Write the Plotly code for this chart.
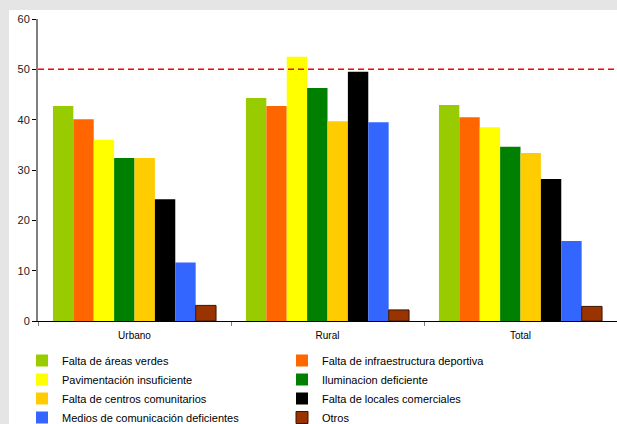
import plotly.graph_objects as go

categories = ["Urbano", "Rural", "Total"]
series_names = [
    "Falta de áreas verdes",
    "Falta de infraestructura deportiva",
    "Pavimentación insuficiente",
    "Iluminacion deficiente",
    "Falta de centros comunitarios",
    "Falta de locales comerciales",
    "Medios de comunicación deficientes",
    "Otros",
]
areas_verdes = [42.7, 44.3, 42.9]
infraestructura = [40.1, 42.7, 40.5]
pavimentacion = [36.0, 52.5, 38.5]
iluminacion = [32.4, 46.3, 34.6]
centros = [32.4, 39.7, 33.4]
locales = [24.2, 49.5, 28.2]
medios = [11.6, 39.5, 15.9]
otros = [3.1, 2.2, 2.9]
reference_value = 50
y_ticks = [0, 10, 20, 30, 40, 50, 60]

series_values = [areas_verdes, infraestructura, pavimentacion, iluminacion,
                 centros, locales, medios, otros]
colors = ["#99cc00", "#ff6600", "#ffff00", "#008000",
          "#ffcc00", "#000000", "#3366ff", "#993300"]

W, H = 617, 424
ml, mr, mt, mb = 38, 0, 19, 103
pw = W - ml - mr
ph = H - mt - mb

fig = go.Figure()
for name, vals, col in zip(series_names, series_values, colors):
    line = dict(width=0)
    if name == "Otros":
        line = dict(width=1, color="#3d1400")
    fig.add_trace(go.Bar(name=name, x=categories, y=vals,
                         marker=dict(color=col, line=line)))

# white panel over gray background (panel from x=9, y=10 to the figure edge)
fig.add_shape(type="rect", xref="paper", yref="paper",
              x0=(9 - ml) / pw, x1=(W + 5 - ml) / pw,
              y0=-(H + 5 - mt - ph) / ph, y1=(ph + mt - 10) / ph,
              fillcolor="white", line=dict(width=0), layer="below")
# reference line
fig.add_shape(type="line", xref="paper", yref="y", x0=0, x1=1,
              y0=reference_value, y1=reference_value,
              line=dict(color="#ff0000", width=1.5, dash="6px,4px"))

fig.update_layout(
    width=W, height=H,
    margin=dict(l=ml, r=mr, t=mt, b=mb, pad=0, autoexpand=False),
    paper_bgcolor="#e5e5e5",
    plot_bgcolor="rgba(0,0,0,0)",
    barmode="group", bargap=0.155, bargroupgap=0,
    font=dict(family="Liberation Sans, Arial, sans-serif", size=11, color="#000"),
    showlegend=True,
    legend=dict(orientation="h", xref="container", yref="container",
                x=22 / W, xanchor="left",
                y=1 - 346 / H, yanchor="top",
                entrywidth=215, entrywidthmode="pixels",
                font=dict(size=11, color="#000"),
                bgcolor="rgba(0,0,0,0)", tracegroupgap=0,
                itemwidth=30, maxheight=200),
    xaxis=dict(showline=True, linecolor="#000", linewidth=1,
               ticks="outside", tickson="boundaries", ticklen=4,
               tickcolor="#808080", tickfont=dict(size=10),
               ticklabelstandoff=5,
               showgrid=False, fixedrange=True),
    yaxis=dict(range=[0, 60], tickvals=y_ticks, showline=True,
               linecolor="#808080", linewidth=2, ticks="outside",
               ticklen=4, tickcolor="#000", showgrid=False, zeroline=False,
               tickfont=dict(size=11, color="#222"), fixedrange=True),
)

fig.write_html("out.html", config={"displayModeBar": False},
               post_script="document.body.style.margin='0';document.body.style.padding='0';")
